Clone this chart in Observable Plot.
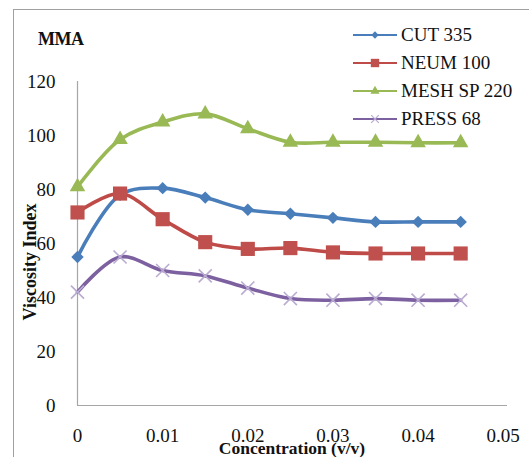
<!DOCTYPE html>
<html><head><meta charset="utf-8">
<script src="https://cdn.jsdelivr.net/npm/d3@7"></script>
<script src="https://cdn.jsdelivr.net/npm/@observablehq/plot@0.6"></script>
<style>
html,body{margin:0;padding:0;background:#fff;overflow:hidden;}
#wrap{position:relative;width:529px;height:457px;overflow:hidden;font-family:"Liberation Serif","Times New Roman",serif;color:#111;}
#border{position:absolute;left:13px;top:9px;width:700px;height:700px;border:1.5px solid #a0a0a0;box-sizing:border-box;}
#chart{position:absolute;left:0;top:0;}
.t{position:absolute;white-space:nowrap;font-weight:bold;font-family:"Liberation Serif","Times New Roman",serif;}
#title{left:38px;top:29px;font-size:18px;letter-spacing:-0.5px;}
#ytitle{left:30px;top:262px;font-size:18px;transform:translate(-50%,-50%) rotate(-90deg);}
#xtitle{left:292px;top:448px;font-size:17.5px;transform:translate(-50%,-50%);}
#legend{position:absolute;left:352px;top:21px;font-family:"Liberation Serif","Times New Roman",serif;}
.row{display:flex;align-items:center;height:28px;font-size:19px;font-family:"Liberation Serif","Times New Roman",serif;}
.row svg{margin-right:3px;}
</style></head>
<body>
<div id="wrap">
  <div id="border"></div>
  <div id="chart"></div>
  <div class="t" id="title">MMA</div>
  <div class="t" id="ytitle">Viscosity Index</div>
  <div class="t" id="xtitle">Concentration (v/v)</div>
  <div id="legend"></div>
</div>
<script>
const concentration = [0, 0.005, 0.01, 0.015, 0.02, 0.025, 0.03, 0.035, 0.04, 0.045];
const seriesNames = ["CUT 335", "NEUM 100", "MESH SP 220", "PRESS 68"];
const cut335 = [55, 78, 80.5, 77, 72.5, 71, 69.5, 68, 68, 68];
const neum100 = [71.5, 78.5, 69, 60.5, 58, 58.3, 56.7, 56.3, 56.3, 56.3];
const meshSp220 = [81, 98.5, 105, 108, 102.5, 97.5, 97.5, 97.5, 97.3, 97.3];
const press68 = [42, 55, 50, 48, 43.5, 39.6, 39, 39.6, 39, 39];
const xTicks = [0, 0.01, 0.02, 0.03, 0.04, 0.05];
const xTickLabels = ["0", "0.01", "0.02", "0.03", "0.04", "0.05"];
const yTicks = [0, 20, 40, 60, 80, 100, 120];

const seriesValues = [cut335, neum100, meshSp220, press68];
const styles = [
  {color:"#4a7ebb", symbol:"diamond2", r:5.6, fill:"#4a7ebb", mstroke:"none", sw:0},
  {color:"#be4b48", symbol:"square2", r:9, fill:"#c0504d", mstroke:"none", sw:0},
  {color:"#98b954", symbol:"triangle2", r:7.4, fill:"#98b954", mstroke:"none", sw:0},
  {color:"#7d60a0", symbol:"times", r:6, fill:"none", mstroke:"#b9abd2", sw:1.6}
];
const table = seriesNames.map((name, k) => concentration.map((c, i) => ({series:name, x:c, y:seriesValues[k][i]})));

const marks = [
  Plot.ruleX([0], {y1:0, y2:120, stroke:"#a6a6a6", strokeWidth:1.2}),
  Plot.ruleY([0], {stroke:"#a6a6a6", strokeWidth:1.2}),
  Plot.axisX({ticks:xTicks, tickSize:0, tickPadding:23, label:null, tickFormat:(d,i)=>xTickLabels[i]}),
  Plot.axisY({ticks:yTicks, tickSize:0, tickPadding:22, label:null})
];
table.forEach((data, k) => {
  const s = styles[k];
  marks.push(Plot.line(data, {x:"x", y:"y", stroke:s.color, strokeWidth:3.6, curve:"catmull-rom"}));
  marks.push(Plot.dot(data, {x:"x", y:"y", symbol:s.symbol, r:s.r, fill:s.fill, stroke:s.mstroke, strokeWidth:s.sw}));
});

const chart = Plot.plot({
  width:529, height:457,
  marginLeft:77, marginRight:22, marginTop:81, marginBottom:52,
  style:{fontFamily:"'Liberation Serif','Times New Roman',serif", fontSize:"19px", color:"#111", background:"transparent", overflow:"visible"},
  x:{domain:[0, 0.0505]},
  y:{domain:[0, 120]},
  marks
});
document.getElementById("chart").appendChild(chart);

// legend
const leg = document.getElementById("legend");
seriesNames.forEach((name, k) => {
  const s = styles[k];
  const row = document.createElement("div");
  row.className = "row";
  const sym = d3.symbol(d3["symbol" + s.symbol[0].toUpperCase() + s.symbol.slice(1)], s.r*s.r*Math.PI*0.35)();
  row.innerHTML = `<svg width="46" height="20"><line x1="1" x2="45" y1="10" y2="10" stroke="${s.color}" stroke-width="2"/><path d="${sym}" transform="translate(23,10)" fill="${s.fill}" stroke="${s.mstroke}" stroke-width="${s.sw ? 1.2 : 0}"/></svg><span>${name}</span>`;
  leg.appendChild(row);
});
</script>
</body></html>
